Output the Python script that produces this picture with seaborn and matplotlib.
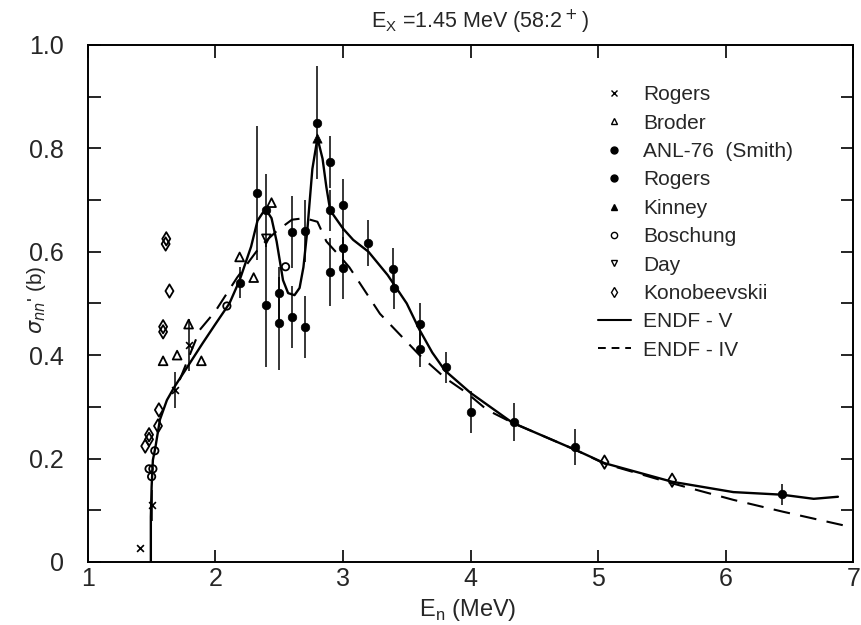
import matplotlib
matplotlib.use("Agg")
import matplotlib.pyplot as plt
from matplotlib.lines import Line2D
from matplotlib.ticker import MultipleLocator
import seaborn as sns
import pandas as pd

# 곡선 데이터 (ENDF 평가값)
endf5_e = [1.494, 1.494, 1.50, 1.51, 1.53, 1.565, 1.62, 1.68, 1.78, 1.90, 2.0, 2.11, 2.19, 2.28,
           2.33, 2.37, 2.40, 2.44, 2.48, 2.53, 2.57, 2.62, 2.66, 2.69, 2.72, 2.76, 2.80, 2.84,
           2.87, 2.90, 3.0, 3.08, 3.20, 3.35, 3.50, 3.60, 3.70, 3.80, 4.0, 4.33, 4.82, 5.05,
           5.58, 6.06, 6.44, 6.69, 6.88]
endf5_s = [0.0, 0.087, 0.145, 0.197, 0.222, 0.275, 0.313, 0.339, 0.377, 0.423, 0.46, 0.50, 0.545, 0.61,
           0.66, 0.675, 0.68, 0.665, 0.62, 0.545, 0.52, 0.516, 0.53, 0.57, 0.64, 0.76, 0.82, 0.78,
           0.725, 0.68, 0.645, 0.623, 0.60, 0.555, 0.50, 0.449, 0.405, 0.37, 0.327, 0.269, 0.217, 0.191,
           0.155, 0.135, 0.13, 0.122, 0.126]

endf4_e = [1.72, 1.878, 2.0, 2.17, 2.35, 2.48, 2.60, 2.70, 2.80, 2.87, 2.98, 3.05, 3.29, 3.60,
           3.80, 3.97, 4.13, 4.33, 4.82, 5.05, 5.58, 6.06, 6.45, 6.99]
endf4_s = [0.352, 0.449, 0.485, 0.55, 0.61, 0.64, 0.662, 0.665, 0.658, 0.62, 0.59, 0.57, 0.48, 0.40,
           0.356, 0.327, 0.294, 0.269, 0.217, 0.19, 0.152, 0.12, 0.097, 0.067]

# 측정 데이터
rogers_x_e = [1.41, 1.50, 1.68, 1.79]
rogers_x_s = [0.027, 0.11, 0.333, 0.42]
rogers_x_err = [0.0, 0.03, 0.035, 0.05]

broder_e = [1.59, 1.70, 1.79, 1.89, 2.19, 2.30, 2.44]
broder_s = [0.389, 0.40, 0.46, 0.389, 0.59, 0.55, 0.695]

anl_e = [2.19, 2.33, 2.40, 2.40, 2.50, 2.50, 2.60, 2.60, 2.70, 2.70, 2.80, 2.90, 2.90,
         3.0, 3.0, 3.20, 3.39, 3.60, 3.81, 4.0, 4.34, 4.82, 6.44]
anl_s = [0.54, 0.714, 0.68, 0.497, 0.52, 0.462, 0.638, 0.474, 0.64, 0.455, 0.85, 0.774, 0.68,
         0.69, 0.607, 0.617, 0.567, 0.46, 0.377, 0.29, 0.271, 0.223, 0.131]
anl_err = [0.03, 0.13, 0.07, 0.12, 0.05, 0.09, 0.07, 0.06, 0.06, 0.06, 0.11, 0.05, 0.04,
           0.05, 0.04, 0.045, 0.04, 0.04, 0.03, 0.04, 0.037, 0.035, 0.02]

rogers_dot_e = [2.90, 3.0, 3.40, 3.60]
rogers_dot_s = [0.561, 0.569, 0.53, 0.412]
rogers_dot_err = [0.065, 0.06, 0.04, 0.035]

kinney_e = [2.80]
kinney_s = [0.82]

boschung_e = [1.48, 1.50, 1.51, 1.525, 2.09, 2.55]
boschung_s = [0.18, 0.165, 0.18, 0.215, 0.495, 0.571]

day_e = [2.40]
day_s = [0.625]

konob_e = [1.45, 1.48, 1.48, 1.55, 1.557, 1.59, 1.59, 1.61, 1.615, 1.64, 5.05, 5.58]
konob_s = [0.224, 0.237, 0.246, 0.263, 0.294, 0.445, 0.455, 0.615, 0.625, 0.524, 0.193, 0.158]

sns.set_style("ticks")
plt.rcParams['font.family'] = ['Liberation Sans', 'DejaVu Sans']
plt.rcParams['mathtext.fontset'] = 'dejavusans'

fig = plt.figure(figsize=(8.61, 6.25), dpi=100)
ax = fig.add_axes([0.102, 0.101, 0.889, 0.827])

# 곡선
df5 = pd.DataFrame({'E': endf5_e, 's': endf5_s})
df4 = pd.DataFrame({'E': endf4_e, 's': endf4_s})
sns.lineplot(data=df5, x='E', y='s', sort=False, estimator=None, color='black', lw=1.7, ax=ax)
sns.lineplot(data=df4, x='E', y='s', sort=False, estimator=None, color='black', lw=1.5,
             linestyle=(0, (8, 5)), ax=ax)

# 오차 막대
ax.errorbar(anl_e, anl_s, yerr=anl_err, fmt='none', ecolor='black', elinewidth=1.1, capsize=0)
ax.errorbar(rogers_dot_e, rogers_dot_s, yerr=rogers_dot_err, fmt='none', ecolor='black', elinewidth=1.1, capsize=0)
ax.errorbar(rogers_x_e, rogers_x_s, yerr=rogers_x_err, fmt='none', ecolor='black', elinewidth=1.1, capsize=0)

# 점
sns.scatterplot(x=rogers_x_e, y=rogers_x_s, marker='x', color='black', s=24, linewidth=1.2, ax=ax)
sns.scatterplot(x=broder_e, y=broder_s, marker='^', facecolor='none', edgecolor='black', s=40, linewidth=1.3, ax=ax)
sns.scatterplot(x=anl_e, y=anl_s, marker='o', color='black', edgecolor='black', s=38, ax=ax)
sns.scatterplot(x=rogers_dot_e, y=rogers_dot_s, marker='o', color='black', edgecolor='black', s=38, ax=ax)
sns.scatterplot(x=kinney_e, y=kinney_s, marker='^', color='black', edgecolor='black', s=44, ax=ax)
sns.scatterplot(x=boschung_e, y=boschung_s, marker='o', facecolor='none', edgecolor='black', s=28, linewidth=1.3, ax=ax)
sns.scatterplot(x=day_e, y=day_s, marker='v', facecolor='none', edgecolor='black', s=40, linewidth=1.3, ax=ax)
sns.scatterplot(x=konob_e, y=konob_s, marker='d', facecolor='none', edgecolor='black', s=46, linewidth=1.3, ax=ax)

ax.set_xlim(1, 7)
ax.set_ylim(0, 1.0)
ax.set_xticks([1, 2, 3, 4, 5, 6, 7])
ax.set_xticklabels(['1', '2', '3', '4', '5', '6', '7'])
ax.set_yticks([0, 0.2, 0.4, 0.6, 0.8, 1.0])
ax.set_yticklabels(['0', '0.2', '0.4', '0.6', '0.8', '1.0'])
ax.yaxis.set_minor_locator(MultipleLocator(0.1))
ax.tick_params(which='both', direction='in', top=True, right=True, width=1.2, color='black',
               labelsize=18)
ax.tick_params(axis='y', pad=17)
ax.tick_params(axis='x', pad=4)
ax.tick_params(which='major', length=9)
ax.tick_params(which='minor', length=9)
for sp in ax.spines.values():
    sp.set_linewidth(1.4)
    sp.set_color('black')

ax.set_xlabel('')
ax.set_ylabel('')
fig.text(0.543, 0.024, r'E$_\mathregular{n}$ (MeV)', ha='center', va='center', fontsize=17)
fig.text(0.042, 0.52, r"$\sigma_{nn}$' (b)", ha='center', va='center', rotation=90, fontsize=15)
fig.text(0.557, 0.965, r'E$_\mathregular{X}$ =1.45 MeV (58:2$^+$)', ha='center', va='center', fontsize=15.5)

handles = [
    Line2D([], [], marker='x', color='black', ls='none', ms=4, mew=1.0),
    Line2D([], [], marker='^', mfc='none', mec='black', ls='none', ms=5, mew=1.0),
    Line2D([], [], marker='o', color='black', ls='none', ms=5),
    Line2D([], [], marker='o', color='black', ls='none', ms=5),
    Line2D([], [], marker='^', color='black', ls='none', ms=5),
    Line2D([], [], marker='o', mfc='none', mec='black', ls='none', ms=4.5, mew=1.0),
    Line2D([], [], marker='v', mfc='none', mec='black', ls='none', ms=5, mew=1.0),
    Line2D([], [], marker='d', mfc='none', mec='black', ls='none', ms=5.5, mew=1.0),
    Line2D([], [], color='black', lw=1.5),
    Line2D([], [], color='black', lw=1.4, linestyle=(0, (4, 3))),
]
labels = ['Rogers', 'Broder', 'ANL-76  (Smith)', 'Rogers', 'Kinney', 'Boschung', 'Day',
          'Konobeevskii', 'ENDF - V', 'ENDF - IV']
ax.legend(handles, labels, loc='upper left', bbox_to_anchor=(0.666, 0.922), frameon=False,
          fontsize=15, handlelength=1.6, handletextpad=0.6, labelspacing=0.45, borderpad=0,
          borderaxespad=0)

fig.savefig('out.png', dpi=100)
